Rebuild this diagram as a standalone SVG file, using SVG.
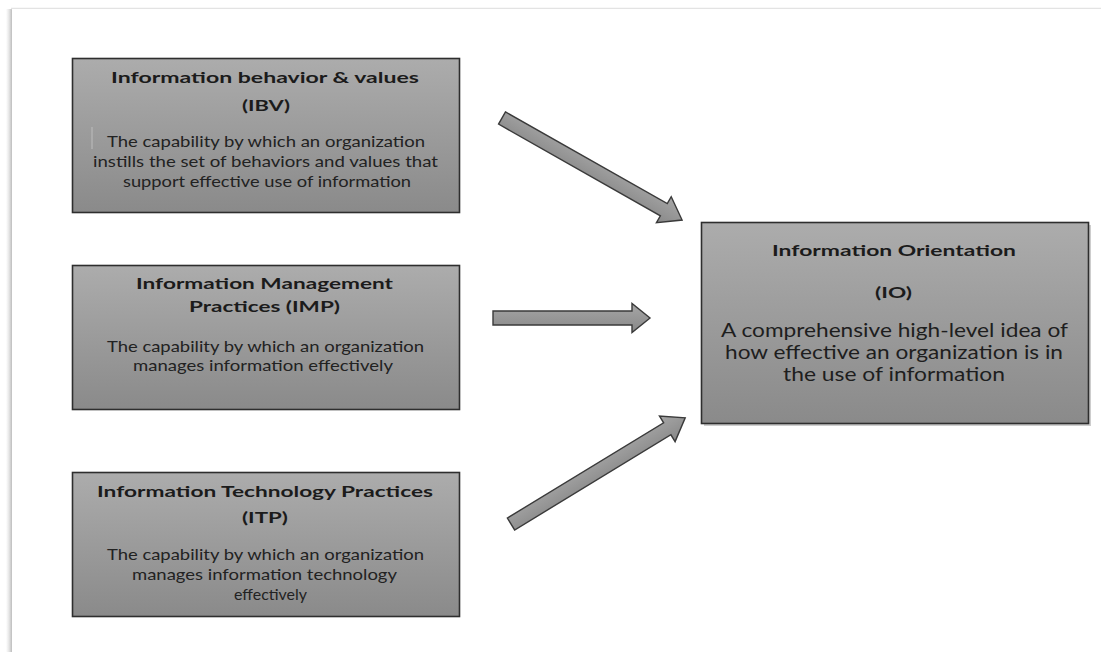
<svg xmlns="http://www.w3.org/2000/svg" width="1101" height="652" viewBox="0 0 1101 652">
  <defs>
    <linearGradient id="boxFill" x1="0" y1="0" x2="0" y2="1">
      <stop offset="0" stop-color="#acacac"/>
      <stop offset="1" stop-color="#8a8a8a"/>
    </linearGradient>
    <linearGradient id="arrowFill" x1="0" y1="0" x2="0" y2="1">
      <stop offset="0" stop-color="#a6a6a6"/>
      <stop offset="1" stop-color="#888888"/>
    </linearGradient>
    <linearGradient id="pageShadow" x1="0" y1="0" x2="1" y2="0">
      <stop offset="0" stop-color="#ffffff"/>
      <stop offset="0.5" stop-color="#e6e6e6"/>
      <stop offset="1" stop-color="#bdbdbd"/>
    </linearGradient>
    <style>
      .box { fill: url(#boxFill); stroke: #2e2e2e; stroke-width: 1.6; }
      .boxShadow { fill: #6f6f6f; opacity: 0.35; }
      .arrow { fill: url(#arrowFill); stroke: #3a3a3a; stroke-width: 1.4; stroke-linejoin: miter; }
      text { font-family: Lato, "Open Sans", "Liberation Sans", sans-serif; text-anchor: middle; }
      .title { font-weight: 700; font-size: 16px; fill: #1b1b1b; }
      .body { font-size: 15px; fill: #222222; }
      .ioTitle { font-weight: 700; font-size: 16px; fill: #1b1b1b; }
      .ioBody { font-size: 18.5px; fill: #1e1e1e; }
    </style>
  </defs>

  <!-- page background and sheet edge -->
  <rect x="0" y="0" width="1101" height="652" fill="#ffffff"/>
  <rect x="6" y="9" width="6" height="643" fill="url(#pageShadow)"/>
  <line x1="11" y1="8.5" x2="1101" y2="8.5" stroke="#e3e3e3" stroke-width="1.5"/>
  <rect x="12" y="9" width="1089" height="643" fill="#ffffff"/>

  <!-- connectors: block arrows drawn along +x from the tail, then placed -->
  <g id="connectors">
    <!-- IBV to IO -->
    <polygon class="arrow" transform="translate(502,118) rotate(29.54)"
             points="0,-7 186,-7 186,-15 207,0 186,15 186,7 0,7"/>
    <!-- IMP to IO -->
    <polygon class="arrow" transform="translate(493,318)"
             points="0,-7 139,-7 139,-14.5 157,0 139,14.5 139,7 0,7"/>
    <!-- ITP to IO -->
    <polygon class="arrow" transform="translate(511,524) rotate(-31.35)"
             points="0,-7 183,-7 183,-15 204,0 183,15 183,7 0,7"/>
  </g>

  <!-- Information behavior & values -->
  <g id="node-ibv">
    <rect class="box" x="72.5" y="58.5" width="387" height="154"/>
    <line x1="92" y1="127" x2="92" y2="149" stroke="#bdbdbd" stroke-width="1"/>
    <text class="title" x="265" y="83" textLength="308" lengthAdjust="spacingAndGlyphs">Information behavior &amp; values</text>
    <text class="title" x="266" y="111" textLength="48" lengthAdjust="spacingAndGlyphs">(IBV)</text>
    <text class="body" x="266" y="147" textLength="318" lengthAdjust="spacingAndGlyphs">The capability by which an organization</text>
    <text class="body" x="265.5" y="167" textLength="345" lengthAdjust="spacingAndGlyphs">instills the set of behaviors and values that</text>
    <text class="body" x="267" y="187" textLength="288" lengthAdjust="spacingAndGlyphs">support effective use of information</text>
  </g>

  <!-- Information Management Practices -->
  <g id="node-imp">
    <rect class="box" x="72.5" y="265.5" width="387" height="144"/>
    <text class="title" x="264.5" y="289" textLength="257" lengthAdjust="spacingAndGlyphs">Information Management</text>
    <text class="title" x="264.5" y="312" textLength="151" lengthAdjust="spacingAndGlyphs">Practices (IMP)</text>
    <text class="body" x="265.5" y="352" textLength="317" lengthAdjust="spacingAndGlyphs">The capability by which an organization</text>
    <text class="body" x="263" y="371" textLength="260" lengthAdjust="spacingAndGlyphs">manages information effectively</text>
  </g>

  <!-- Information Technology Practices -->
  <g id="node-itp">
    <rect class="box" x="72.5" y="472.5" width="387" height="144"/>
    <text class="title" x="265" y="497" textLength="336" lengthAdjust="spacingAndGlyphs">Information Technology Practices</text>
    <text class="title" x="265" y="523" textLength="46" lengthAdjust="spacingAndGlyphs">(ITP)</text>
    <text class="body" x="265.5" y="560" textLength="317" lengthAdjust="spacingAndGlyphs">The capability by which an organization</text>
    <text class="body" x="264.5" y="579.5" textLength="265" lengthAdjust="spacingAndGlyphs">manages information technology</text>
    <text class="body" x="270.5" y="600" textLength="73" lengthAdjust="spacingAndGlyphs">effectively</text>
  </g>

  <!-- Information Orientation -->
  <g id="node-io">
    <rect class="boxShadow" x="704" y="225" width="387" height="201"/>
    <rect class="box" x="701.5" y="222.5" width="387" height="201"/>
    <text class="ioTitle" x="894" y="256" textLength="244" lengthAdjust="spacingAndGlyphs">Information Orientation</text>
    <text class="ioTitle" x="893.5" y="298" textLength="37" lengthAdjust="spacingAndGlyphs">(IO)</text>
    <text class="ioBody" x="894.5" y="337" textLength="347" lengthAdjust="spacingAndGlyphs">A comprehensive high-level idea of</text>
    <text class="ioBody" x="894" y="359" textLength="338" lengthAdjust="spacingAndGlyphs">how effective an organization is in</text>
    <text class="ioBody" x="894" y="381" textLength="222" lengthAdjust="spacingAndGlyphs">the use of information</text>
  </g>
</svg>
